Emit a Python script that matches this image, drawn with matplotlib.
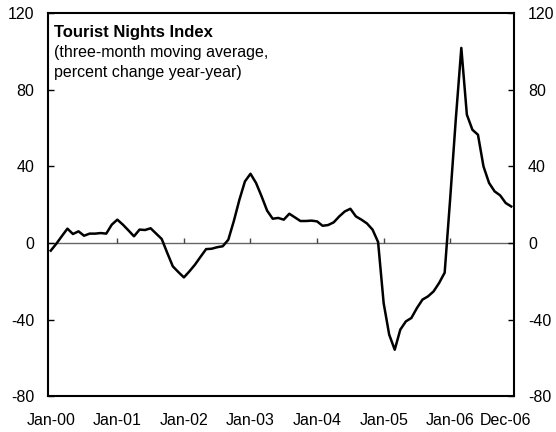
import matplotlib
matplotlib.use("Agg")
import matplotlib.pyplot as plt

plt.rcParams['font.family'] = ['Liberation Sans', 'DejaVu Sans']
plt.rcParams['axes.unicode_minus'] = False

# tourist nights index, 3-month moving average, % change y/y (monthly)
y2000 = [-4.0, -0.4, 3.6, 7.5, 4.7, 6.1, 3.8, 4.9, 4.9, 5.2, 4.9, 9.6]
y2001 = [12.2, 9.6, 6.6, 3.5, 7.0, 6.8, 7.7, 4.9, 2.1, -5.2, -12.2, -15.2]
y2002 = [-18.0, -14.8, -11.3, -7.2, -3.2, -3.0, -2.2, -1.7, 1.7, 11.5, 22.6, 32.2]
y2003 = [36.2, 31.4, 24.4, 16.9, 12.7, 13.1, 12.2, 15.3, 13.4, 11.5, 11.5, 11.7]
y2004 = [11.3, 9.0, 9.4, 10.8, 13.9, 16.5, 17.9, 13.9, 12.2, 10.2, 7.0, 0.5]
y2005 = [-31.4, -47.9, -55.8, -45.3, -41.0, -39.2, -34.0, -29.6, -27.9, -25.3, -20.9, -15.5]
y2006 = [23.5, 64.5, 102.0, 67.1, 59.2, 56.6, 40.0, 31.4, 27.0, 24.9, 20.9, 19.1]

values = y2000 + y2001 + y2002 + y2003 + y2004 + y2005 + y2006
months = list(range(len(values)))

tick_labels = ["Jan-00", "Jan-01", "Jan-02", "Jan-03", "Jan-04", "Jan-05", "Jan-06", "Dec-06"]
tick_pos = [0, 12, 24, 36, 48, 60, 72, 82]
y_ticks = [-80, -40, 0, 40, 80, 120]

fig = plt.figure(figsize=(5.56, 4.32), dpi=100)
ax = fig.add_axes([0.0863, 0.0833, 0.8382, 0.8855])

ax.axhline(0, color="#666666", lw=1, zorder=1)
ax.vlines(tick_pos[1:7], 0, 2.6, color="#444444", lw=1, zorder=1)
ax.plot(months, values, color="black", lw=1.8, zorder=2)

ax.set_xlim(-0.5, 83.5)
ax.set_ylim(-80, 120)
ax.set_xticks(tick_pos)
ax.set_xticklabels(tick_labels)
ax.set_yticks(y_ticks)
ax.tick_params(axis="x", length=0, pad=12, labelsize=11.5)
ax.tick_params(axis="y", direction="in", length=4, width=1, pad=10,
               labelsize=11.5, left=True, right=True, labelleft=True, labelright=True)

for s in ax.spines.values():
    s.set_linewidth(1.5)

fig.text(0.097, 0.942, "Tourist Nights Index", fontsize=12, fontweight="bold", va="top")
fig.text(0.097, 0.896, "(three-month moving average,", fontsize=11.5, va="top")
fig.text(0.097, 0.850, "percent change year-year)", fontsize=11.5, va="top")

fig.savefig("out.png", dpi=100)
